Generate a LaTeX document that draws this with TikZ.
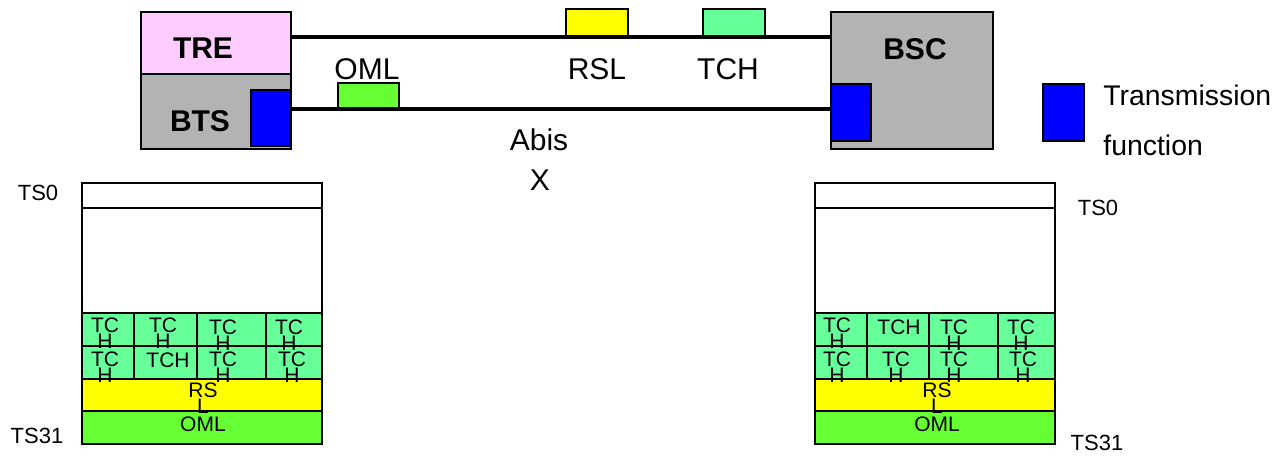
\documentclass[tikz,border=0pt]{standalone}
\usepackage{fontspec}
\setmainfont{Liberation Sans}
\usetikzlibrary{fit}
\definecolor{trepink}{HTML}{FFCCFF}
\definecolor{boxgray}{HTML}{B3B3B3}
\definecolor{tblue}{HTML}{0000FF}
\definecolor{omlgreen}{HTML}{66FF33}
\definecolor{rslyellow}{HTML}{FFFF00}
\definecolor{tchgreen}{HTML}{66FF99}
\begin{document}
\begin{tikzpicture}[x=0.5pt,y=-0.5pt,
  box/.style={draw=black, line width=0.7pt, inner sep=0pt},
  link/.style={draw=black, line width=1.8pt},
  big/.style={inner sep=0pt, font=\fontsize{15}{18}\selectfont},
  bigb/.style={inner sep=0pt, font=\fontsize{15}{18}\selectfont\bfseries},
  tslab/.style={inner sep=0pt, font=\fontsize{11}{13}\selectfont},
  cell/.style={inner sep=0pt, align=center, font=\fontsize{10.5}{7.3}\selectfont},
  divider/.style={draw=black, line width=0.7pt}]
\useasboundingbox (0,0) rectangle (1287,456);

% ---- top: TRE / BTS
\node[box, fill=trepink, fit={(141,12) (291,74)}] (tre) {};
\node[box, fill=boxgray, fit={(141,74) (291,149)}] (bts) {};
\node[box, fill=tblue, fit={(251,90) (291,146)}] (btstx) {};
\node[bigb] (tretxt) at (203,48) {TRE};
\node[bigb] (btstxt) at (200,121) {BTS};

% ---- BSC
\node[box, fill=boxgray, fit={(831,12) (993,149)}] (bsc) {};
\node[box, fill=tblue, fit={(831,84) (871,141)}] (bsctx) {};
\node[bigb] (bsctxt) at (915,49) {BSC};

% ---- links
\draw[link] (tre.east |- 0,37) -- (bsc.west |- 0,37);
\draw[link] (btstx.east |- 0,109) -- (bsctx.west |- 0,109);

% ---- channel boxes on links
\node[box, fill=omlgreen, fit={(338,83) (399,108)}] (omlbox) {};
\node[box, fill=rslyellow, fit={(566,9) (628,36)}] (rslbox) {};
\node[box, fill=tchgreen, fit={(703,9) (765,36)}] (tchbox) {};
\node[big] (omltxt) at (367,69) {OML};
\node[big] (rsltxt) at (597,69) {RSL};
\node[big] (tchtxt) at (728,69) {TCH};
\node[big] (abis) at (539,140) {Abis};
\node[big] (xtxt) at (540,180) {X};

% ---- legend
\node[box, fill=tblue, fit={(1043,84) (1084,141)}] (legbox) {};
\node[inner sep=0pt, anchor=base west, font=\fontsize{14.2}{16}\selectfont] (leg1) at (1103,105) {Transmission};
\node[inner sep=0pt, anchor=base west, font=\fontsize{14.2}{16}\selectfont] (leg2) at (1103,155) {function};

% ---- left table
\node[box, fill=white, fit={(82,183) (322,313)}] (ltop) {};
\draw[divider] (ltop.west |- 0,208) -- (ltop.east |- 0,208);
\node[box, fill=tchgreen, fit={(82,313) (322,346)}] (lrow1) {};
\node[box, fill=tchgreen, fit={(82,346) (322,379)}] (lrow2) {};
\node[box, fill=rslyellow, fit={(82,379) (322,411)}] (lrsl) {};
\node[box, fill=omlgreen, fit={(82,411) (322,444)}] (loml) {};
\foreach \x in {134,197,266} {
  \draw[divider] (lrow1.north -| \x,0) -- (lrow2.south -| \x,0);
}
\node[cell] (l11) at (105,333) {TC\\H};
\node[cell] (l12) at (163,333) {TC\\H};
\node[cell] (l13) at (223,335) {TC\\H};
\node[cell] (l14) at (289,335) {TC\\H};
\node[cell] (l21) at (105,367) {TC\\H};
\node[cell] (l22) at (168,360) {TCH};
\node[cell] (l23) at (223,367) {TC\\H};
\node[cell] (l24) at (292,367) {TC\\H};
\node[cell] (lrs) at (203,398) {RS\\L};
\node[cell] (lom) at (203,424) {OML};
\node[tslab] (lts0) at (38,193) {TS0};
\node[tslab] (lts31) at (37,436) {TS31};

% ---- right table
\node[box, fill=white, fit={(815,183) (1055,313)}] (rtop) {};
\draw[divider] (rtop.west |- 0,208) -- (rtop.east |- 0,208);
\node[box, fill=tchgreen, fit={(815,313) (1055,346)}] (rrow1) {};
\node[box, fill=tchgreen, fit={(815,346) (1055,379)}] (rrow2) {};
\node[box, fill=rslyellow, fit={(815,379) (1055,411)}] (rrsl) {};
\node[box, fill=omlgreen, fit={(815,411) (1055,444)}] (roml) {};
\foreach \x in {867,929,998} {
  \draw[divider] (rrow1.north -| \x,0) -- (rrow2.south -| \x,0);
}
\node[cell] (r11) at (837,333) {TC\\H};
\node[cell] (r12) at (899,327) {TCH};
\node[cell] (r13) at (954,335) {TC\\H};
\node[cell] (r14) at (1021,335) {TC\\H};
\node[cell] (r21) at (837,367) {TC\\H};
\node[cell] (r22) at (896,367) {TC\\H};
\node[cell] (r23) at (954,367) {TC\\H};
\node[cell] (r24) at (1023,367) {TC\\H};
\node[cell] (rrs) at (937,398) {RS\\L};
\node[cell] (rom) at (937,424) {OML};
\node[tslab] (rts0) at (1098,208) {TS0};
\node[tslab] (rts31) at (1097,443) {TS31};
\end{tikzpicture}
\end{document}
